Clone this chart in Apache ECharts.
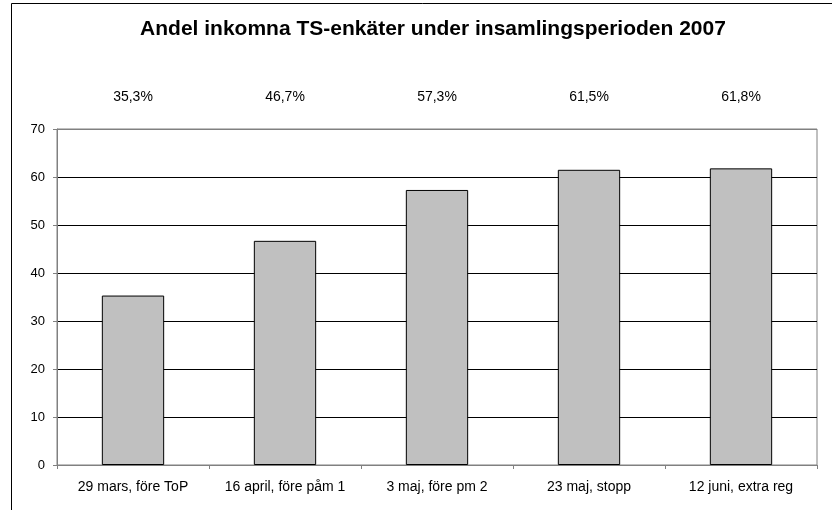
<!DOCTYPE html>
<html>
<head>
<meta charset="utf-8">
<script src="https://cdn.jsdelivr.net/npm/echarts@6/dist/echarts.min.js"></script>
<style>
  html, body { margin: 0; padding: 0; background: #fff; }
  #chart { width: 832px; height: 510px; }
</style>
</head>
<body>
<div id="chart"></div>
<script>
// data
const categories = ['29 mars, före ToP', '16 april, före påm 1', '3 maj, före pm 2', '23 maj, stopp', '12 juni, extra reg']
const values = [35.3, 46.7, 57.3, 61.5, 61.8]
const pctLabels = ['35,3%', '46,7%', '57,3%', '61,5%', '61,8%']

const chart = echarts.init(document.getElementById('chart'))

const font = 'Liberation Sans, Arial, sans-serif'

const option = {
  animation: false,
  backgroundColor: '#fff',
  title: {
    text: 'Andel inkomna TS-enkäter under insamlingsperioden 2007',
    left: 428,
    textAlign: 'center',
    top: 14,
    textStyle: { fontFamily: font, fontSize: 21, fontWeight: 'bold', color: '#000' }
  },
  // 外框
  graphic: [{
    type: 'rect',
    shape: { x: 11.5, y: 3.5, width: 900, height: 600 },
    style: { fill: 'none', stroke: '#000', lineWidth: 1 },
    silent: true
  }],
  grid: {
    left: 57, right: 15, top: 129, bottom: 45,
    show: true, borderColor: '#808080', borderWidth: 1
  },
  xAxis: [{
    type: 'category',
    data: categories,
    axisLine: { lineStyle: { color: '#808080' } },
    axisTick: { show: true, interval: 0, length: 4, alignWithLabel: false, lineStyle: { color: '#808080' } },
    axisLabel: { interval: 0, hideOverlap: false, fontFamily: font, fontSize: 14, color: '#000', margin: 15 }
  }, {
    type: 'category',
    data: pctLabels,
    position: 'top',
    axisLine: { show: false },
    axisTick: { show: false },
    axisLabel: { interval: 0, fontFamily: font, fontSize: 14, color: '#000', margin: 25 }
  }],
  yAxis: {
    type: 'value',
    min: 0,
    max: 70,
    interval: 10,
    axisLine: { show: true, lineStyle: { color: '#808080' } },
    axisTick: { show: true, length: 4, lineStyle: { color: '#808080' } },
    axisLabel: { fontFamily: font, fontSize: 13, color: '#000', margin: 12 },
    splitLine: {
      lineStyle: { color: ['#000', '#000', '#000', '#000', '#000', '#000', '#000', '#808080'], width: 1 }
    }
  },
  series: [{
    type: 'bar',
    data: values,
    barWidth: '41%',
    itemStyle: { color: '#C0C0C0', borderColor: '#000', borderWidth: 1 }
  }]
}

chart.setOption(option)
</script>
</body>
</html>
